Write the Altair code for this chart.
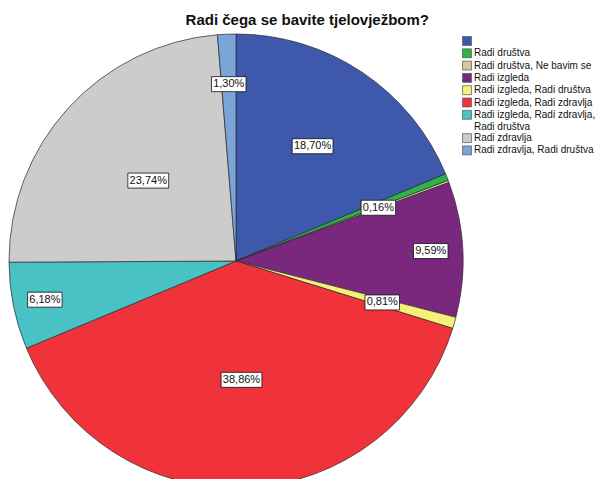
import altair as alt
import pandas as pd

categories = ["", "Radi društva", "Radi društva, Ne bavim se", "Radi izgleda",
              "Radi izgleda, Radi društva", "Radi izgleda, Radi zdravlja",
              "Radi izgleda, Radi zdravlja, Radi društva", "Radi zdravlja",
              "Radi zdravlja, Radi društva"]
percents = [18.70, 0.49, 0.16, 9.59, 0.81, 38.86, 6.18, 23.74, 1.30]
show_label = [True, False, True, True, True, True, True, True, True]
colors = ["#3E58AC", "#2EB24B", "#D5C89B", "#7A287E", "#F5F07A",
          "#F0333A", "#48C2C5", "#CCCCCC", "#7BA5D7"]

df = pd.DataFrame({"cat": categories, "pct": percents,
                   "idx": list(range(len(categories))), "show": show_label})

CX, CY, R = 228, 223, 227
FONT = "Liberation Sans"

base = alt.Chart(df)

pie = base.mark_arc(stroke="#2a2a2a", strokeWidth=0.7).encode(
    theta=alt.Theta("pct:Q", stack=True),
    order=alt.Order("idx:Q"),
    color=alt.Color("cat:N", scale=alt.Scale(domain=categories, range=colors),
                    sort=categories,
                    legend=alt.Legend(
                        title=None, orient="none", legendX=454, legendY=-2,
                        symbolType="square", symbolSize=80,
                        symbolStrokeColor="#555555", symbolStrokeWidth=0.7,
                        labelFont=FONT, labelFontSize=10, labelColor="#111111",
                        labelLimit=300, rowPadding=0.3, labelOffset=2,
                        labelExpr="datum.label == 'Radi izgleda, Radi zdravlja, Radi društva' ? ['Radi izgleda, Radi zdravlja,', 'Radi društva'] : datum.label")),
    radius=alt.value(R),
    x=alt.value(CX), y=alt.value(CY),
)

lab = base.transform_window(
    cum="sum(pct)", sort=[alt.SortField("idx")]
).transform_joinaggregate(
    total="sum(pct)"
).transform_filter(
    "datum.show"
).transform_calculate(
    ang="(datum.cum - datum.pct/2) / datum.total * 2 * PI",
    rr="datum.pct > 15 ? (datum.pct > 20 ? 119 : 138) : (datum.pct > 5 ? 195 : (datum.pct > 1 ? 177 : 152))",
    txt="replace(format(datum.pct, '.2f'), '.', ',') + '%'",
).transform_calculate(
    px=f"{CX} + datum.rr * sin(datum.ang)",
    py=f"{CY} - datum.rr * cos(datum.ang)",
    w="6.3 * length(datum.txt) + 3",
).transform_calculate(
    x1="datum.px - datum.w/2", x2="datum.px + datum.w/2",
    y1="datum.py - 7.5", y2="datum.py + 7.5",
)

boxes = lab.mark_rect(fill="white", stroke="#111111", strokeWidth=0.8).encode(
    x=alt.X("x1:Q", scale=None), x2="x2:Q",
    y=alt.Y("y1:Q", scale=None), y2="y2:Q",
)
texts = lab.mark_text(font=FONT, fontSize=11, color="#111111",
                      baseline="middle", align="center").encode(
    x=alt.X("px:Q", scale=None), y=alt.Y("py:Q", scale=None),
    text="txt:N",
)

chart = alt.layer(pie, boxes, texts).properties(
    width=587, height=441,
    padding={"left": 0, "top": 30, "right": 0, "bottom": 0},
    autosize=alt.AutoSizeParams(type="none"),
    background="white",
    title=alt.Title("Radi čega se bavite tjelovježbom?", font=FONT,
                    fontSize=15, fontWeight="bold", color="#111111",
                    anchor="start", dx=178, offset=5),
).configure_view(stroke=None, strokeWidth=0)

chart.save("out.html", embed_options={"renderer": "svg", "actions": False})
